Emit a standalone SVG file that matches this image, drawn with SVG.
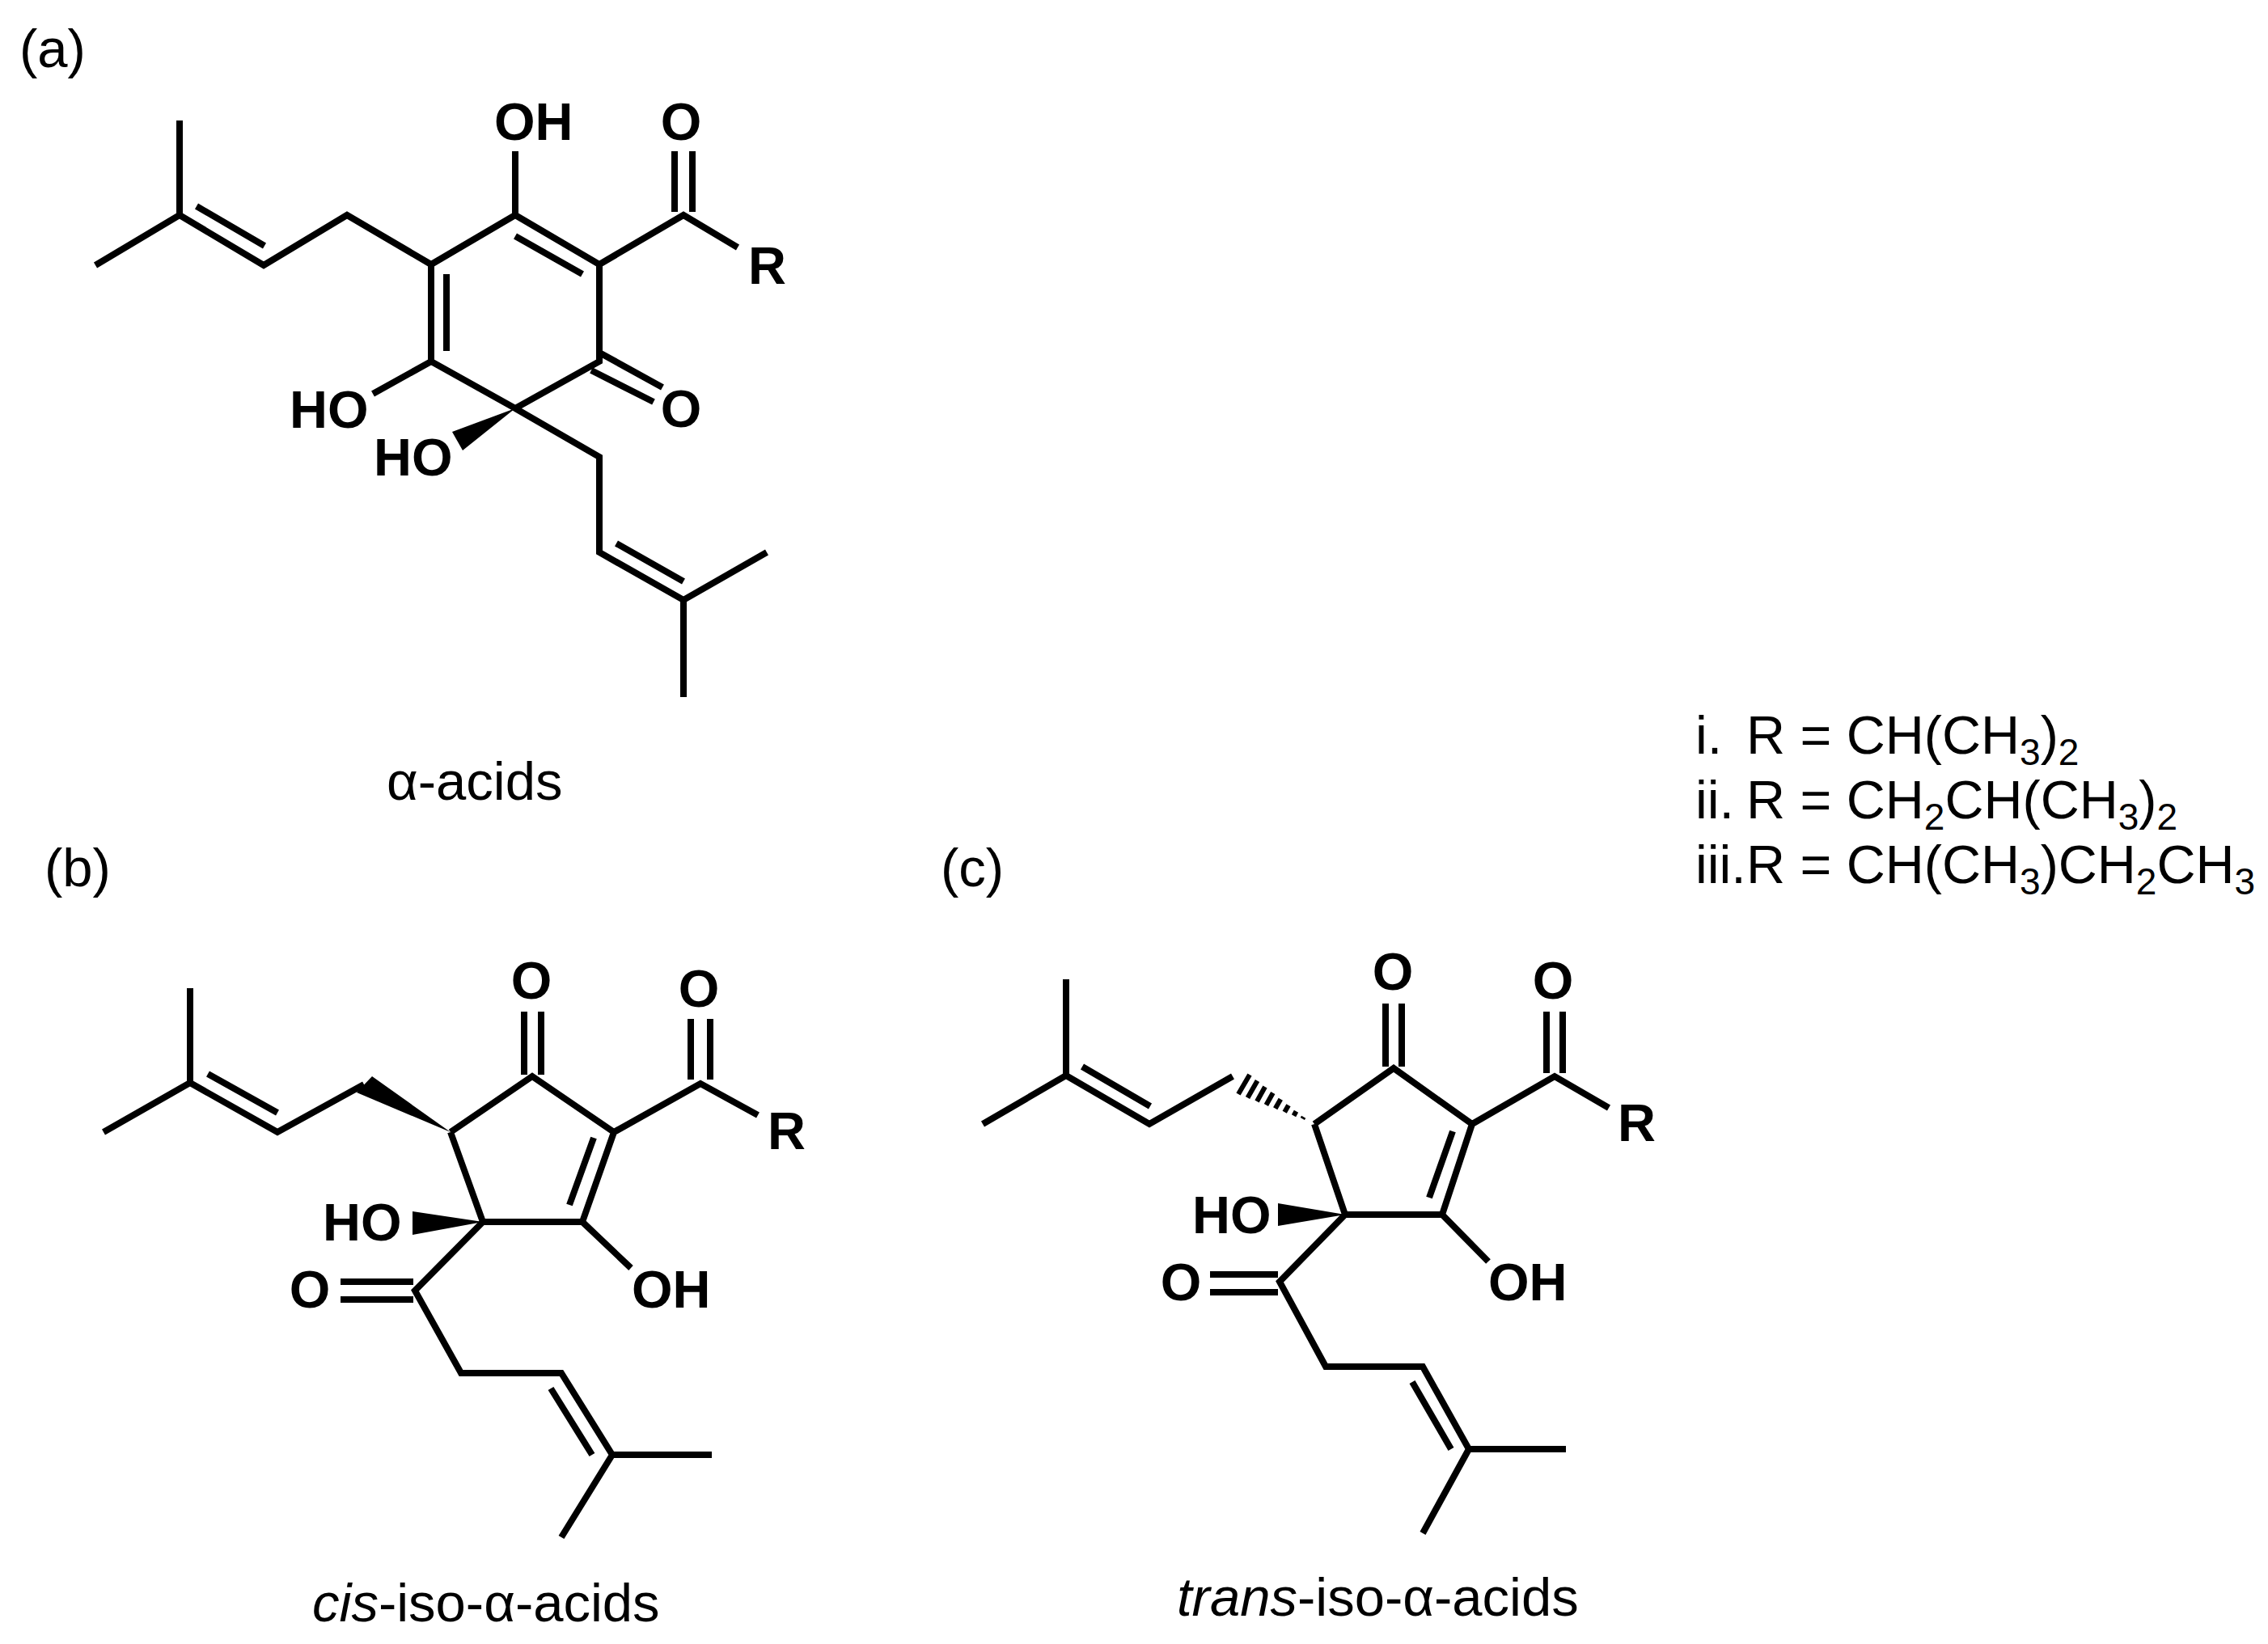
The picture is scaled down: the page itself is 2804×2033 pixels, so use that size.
<svg xmlns="http://www.w3.org/2000/svg" width="2804" height="2033" viewBox="0 0 2804 2033">
<style>
.b{fill:none;stroke:#000;stroke-width:8;stroke-linejoin:miter;stroke-linecap:butt}
.h{fill:none;stroke:#000;stroke-width:6}
.w{fill:#000;stroke:none}
text{font-family:"Liberation Sans",Arial,sans-serif;fill:#000}
.a{font-weight:bold;font-size:65px}
.m{text-anchor:middle}
.t{font-size:67px}
.r{font-size:66.500px}
.s{font-size:46px}
</style>
<rect width="2804" height="2033" fill="#fff"/>
<g id="alpha-acids">
<g id="alpha-bonds">
<path class="b" d="M118 328L222 266V149M222 266L326 328L429 266L533 327L637 266L741 327V447L637 505L533 447V327M243 255L327 304M552 339V434M637 292L720 339M637 266V187M741 327L845 266L912 306M834 187V262M856 187V262M741 436L819 479M731 458L808 497M533 447L461 487M637 505L741 565V683L845 742L948 683M845 742V862M762 672L845 719"/>
<path class="w" d="M637 505L559 534L572 557Z"/>
</g>
<text class="a" x="611" y="173">OH</text>
<text class="a m" x="842" y="173">O</text>
<text class="a" x="925" y="351">R</text>
<text class="a m" x="842" y="528">O</text>
<text class="a" x="358" y="529">HO</text>
<text class="a" x="462" y="588">HO</text>
<text class="t" x="24" y="83">(a)</text>
<text class="t" x="478" y="989">α-acids</text>
</g>
<g id="cis-iso-alpha-acids">
<g id="cis-bonds">
<path class="b" d="M128 1400L235 1339V1222M235 1339L343 1400L450 1341M257 1328L343 1376M557 1400L658 1331L759 1400L720 1511H597L557 1400M734 1407L704 1490M648 1251V1329M669 1251V1329M759 1400L866 1340L937 1379M854 1260V1335M878 1260V1335M720 1511L780 1568M597 1511L513 1596L570 1698H694L757 1799H880M757 1799L694 1901M421 1585H511M421 1607H511M681 1717L732 1799"/>
<path class="w" d="M557 1400L460 1331L441 1351Z"/>
<path class="w" d="M597 1511L510 1498V1527Z"/>
</g>
<text class="a m" x="657" y="1235">O</text>
<text class="a m" x="864" y="1245">O</text>
<text class="a" x="949" y="1421">R</text>
<text class="a" x="399" y="1534">HO</text>
<text class="a m" x="383" y="1617">O</text>
<text class="a" x="781" y="1617">OH</text>
<text class="t" x="55" y="1096">(b)</text>
<text class="t" x="386" y="2005"><tspan font-style="italic">cis</tspan>-iso-α-acids</text>
</g>
<g id="trans-iso-alpha-acids">
<g id="trans-bonds">
<path class="b" d="M1215 1390L1318 1330V1211M1318 1330L1421 1390L1524 1331M1338 1319L1422 1368M1625 1390L1723 1321L1820 1390L1783 1502H1663L1625 1390M1796 1399L1767 1481M1713 1241V1319M1733 1241V1319M1820 1390L1922 1331L1989 1370M1912 1251V1327M1932 1251V1327M1783 1502L1840 1560M1663 1502L1582 1585L1639 1690H1759L1816 1792H1936M1816 1792L1759 1896M1496 1576H1580M1496 1598H1580M1746 1709L1794 1792"/>
<path class="h" d="M1545 1329L1531 1353M1554.5 1336.400L1542.500 1357.600M1564 1344L1554 1362M1573.800 1351.600L1565.400 1366.400M1583.300 1359.200L1576.700 1370.800M1593 1366.700L1588.200 1375.300M1602.500 1374.300L1599.500 1379.700M1611.700 1381.200L1610.300 1383.600"/>
<path class="w" d="M1663 1502L1580 1488V1516Z"/>
</g>
<text class="a m" x="1722" y="1224">O</text>
<text class="a m" x="1920" y="1235">O</text>
<text class="a" x="2000" y="1411">R</text>
<text class="a" x="1474" y="1525">HO</text>
<text class="a m" x="1460" y="1608">O</text>
<text class="a" x="1840" y="1608">OH</text>
<text class="t" x="1163" y="1096">(c)</text>
<text class="t" x="1455" y="1998"><tspan font-style="italic">trans</tspan>-iso-α-acids</text>
</g>
<g id="r-groups">
<text class="r" x="2096" y="932">i.<tspan x="2159">R = CH(CH</tspan><tspan class="s" dy="14">3</tspan><tspan dy="-14">)</tspan><tspan class="s" dy="14">2</tspan></text>
<text class="r" x="2096" y="1012">ii.<tspan x="2159">R = CH</tspan><tspan class="s" dy="14">2</tspan><tspan dy="-14">CH(CH</tspan><tspan class="s" dy="14">3</tspan><tspan dy="-14">)</tspan><tspan class="s" dy="14">2</tspan></text>
<text class="r" x="2096" y="1092">iii.<tspan x="2159">R = CH(CH</tspan><tspan class="s" dy="14">3</tspan><tspan dy="-14">)CH</tspan><tspan class="s" dy="14">2</tspan><tspan dy="-14">CH</tspan><tspan class="s" dy="14">3</tspan></text>
</g>
</svg>
